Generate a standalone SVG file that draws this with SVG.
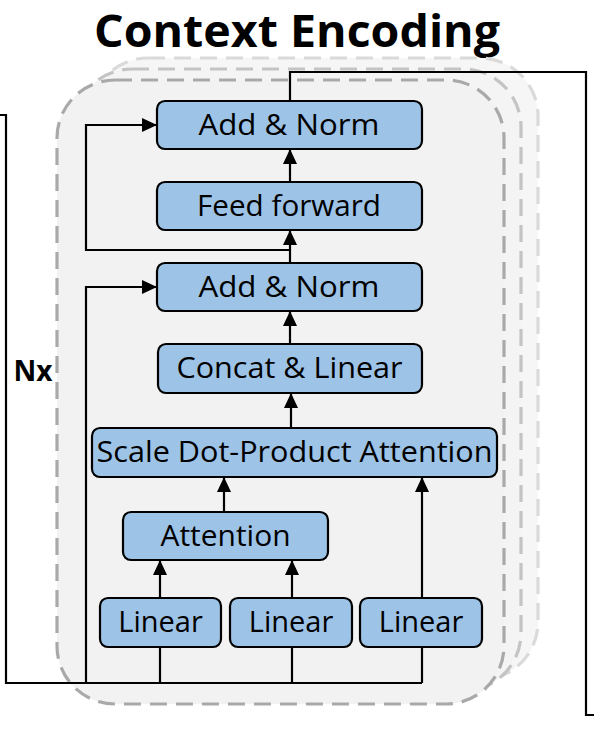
<svg xmlns="http://www.w3.org/2000/svg" width="594" height="731" viewBox="0 0 594 731">
<defs>
<style>
.box{fill:#9dc3e6;stroke:#000;stroke-width:2.2}
.lbl{font-family:"Open Sans","Noto Sans",sans-serif;font-size:29px;fill:#000;text-anchor:middle}
.ln{fill:none;stroke:#000;stroke-width:2.2}
.arr{marker-end:url(#ah)}
.frame{stroke-width:3.2;stroke-dasharray:17 9}
</style>
<marker id="ah" markerUnits="userSpaceOnUse" markerWidth="16" markerHeight="16" refX="15" refY="7" orient="auto">
<path d="M0,0 L15,7 L0,14 Z" fill="#000"/>
</marker>
</defs>
<rect width="594" height="731" fill="#fff"/>
<text x="297" y="47" font-family="'Open Sans','Noto Sans',sans-serif" font-size="44" font-weight="bold" text-anchor="middle" textLength="406" lengthAdjust="spacingAndGlyphs">Context Encoding</text>
<g id="stack">
<rect class="frame" x="90" y="58" width="448" height="622" rx="58" fill="#f6f6f6" stroke="#dadada"/>
<rect class="frame" x="74" y="69" width="447" height="622" rx="58" fill="#f4f4f4" stroke="#c4c4c4"/>
<rect class="frame" x="57" y="80" width="447" height="624" rx="58" fill="#f2f2f2" stroke="#a9a9a9"/>
</g>
<text x="33" y="381" font-family="'Open Sans','Noto Sans',sans-serif" font-size="28" font-weight="bold" text-anchor="middle">Nx</text>
<g id="connectors">
<path class="ln" d="M0,115 H6 V683 H422"/>
<path class="ln arr" d="M160,683 V598"/>
<path class="ln arr" d="M292,683 V598"/>
<path class="ln arr" d="M422,683 V598"/>
<path class="ln arr" d="M160,598 V560"/>
<path class="ln arr" d="M292,598 V560"/>
<path class="ln arr" d="M422,598 V477"/>
<path class="ln arr" d="M224,512 V477"/>
<path class="ln arr" d="M291,428 V393"/>
<path class="ln arr" d="M290,344 V311"/>
<path class="ln arr" d="M290,263 V230"/>
<path class="ln arr" d="M290,182 V149"/>
<path class="ln arr" d="M86,683 V287 H157"/>
<path class="ln arr" d="M290,250 H86 V125 H157"/>
<path class="ln" d="M290,101 V72 H586 V715 H594"/>
</g>
<g id="addnorm1"><rect class="box" x="157" y="101" width="265" height="48" rx="8"/><text class="lbl" x="289" y="135" textLength="181" lengthAdjust="spacingAndGlyphs">Add &amp; Norm</text></g>
<g id="feedforward"><rect class="box" x="157" y="182" width="265" height="48" rx="8"/><text class="lbl" x="289" y="216" textLength="184" lengthAdjust="spacingAndGlyphs">Feed forward</text></g>
<g id="addnorm2"><rect class="box" x="157" y="263" width="265" height="48" rx="8"/><text class="lbl" x="289" y="297" textLength="181" lengthAdjust="spacingAndGlyphs">Add &amp; Norm</text></g>
<g id="concat"><rect class="box" x="158" y="344" width="264" height="49" rx="8"/><text class="lbl" x="289.5" y="378" textLength="226" lengthAdjust="spacingAndGlyphs">Concat &amp; Linear</text></g>
<g id="scaledot"><rect class="box" x="92" y="428" width="405" height="49" rx="8"/><text class="lbl" x="294.5" y="462" textLength="396" lengthAdjust="spacingAndGlyphs">Scale Dot-Product Attention</text></g>
<g id="attention"><rect class="box" x="123" y="512" width="205" height="48" rx="8"/><text class="lbl" x="225.5" y="546" textLength="130" lengthAdjust="spacingAndGlyphs">Attention</text></g>
<g id="linear1"><rect class="box" x="100" y="598" width="121" height="49" rx="8"/><text class="lbl" x="160.5" y="632">Linear</text></g>
<g id="linear2"><rect class="box" x="230" y="598" width="122" height="49" rx="8"/><text class="lbl" x="291" y="632">Linear</text></g>
<g id="linear3"><rect class="box" x="360" y="598" width="122" height="49" rx="8"/><text class="lbl" x="421" y="632">Linear</text></g>
</svg>
